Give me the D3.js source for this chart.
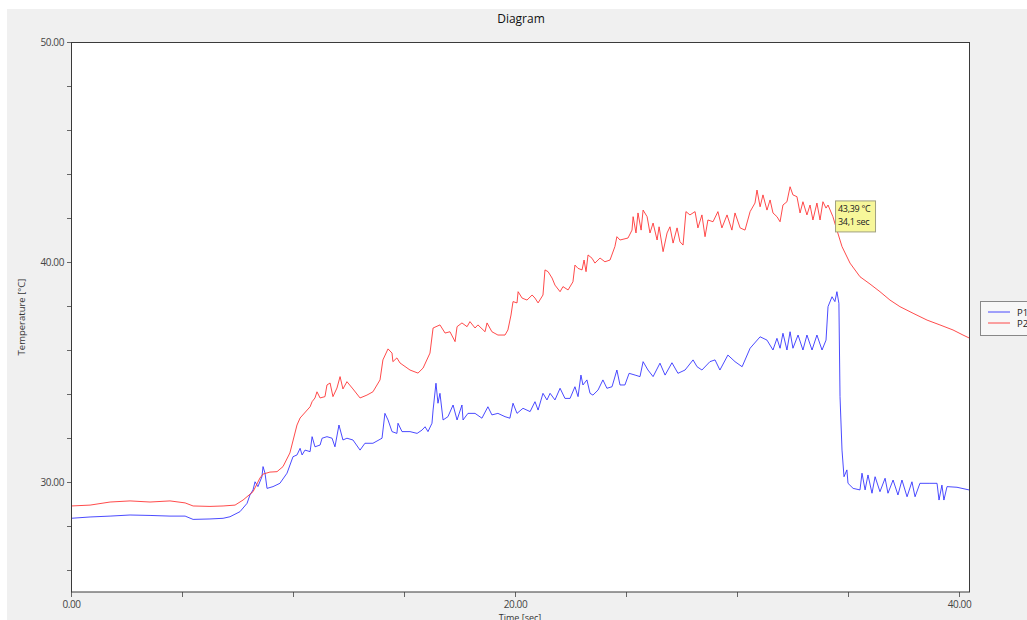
<!DOCTYPE html>
<html><head><meta charset="utf-8">
<script src="https://cdn.jsdelivr.net/npm/d3@7"></script>
<style>
html,body{margin:0;padding:0;background:#fff;}
svg{display:block;}
text{font-family:"Open Sans","DejaVu Sans",sans-serif;fill:#333;}
</style></head>
<body>
<svg id="c" width="1027" height="620"></svg>
<script>
const chartTitle = "Diagram";
const xTitle = "Time [sec]";
const yTitle = "Temperature [°C]";
const seriesNames = ["P1", "P2"];
const seriesColors = ["#2b2bff", "#ff2b2b"];
const xDomain = [0, 40.45];
const yDomain = [25, 50];
const xTicks = [0, 5, 10, 15, 20, 25, 30, 35, 40];
const xLabelTicks = [0, 20, 40];
const yTicks = [26, 28, 30, 32, 34, 36, 38, 40, 42, 44, 46, 48, 50];
const yLabelTicks = [30, 40, 50];
const tipTime = 34.1;
const tipTemp = 43.39;
const tipLines = ["43,39 °C", "34,1 sec"];

const p1Time = [0,0.86,1.76,2.66,3.56,4.46,5.14,5.50,6.26,6.85,7.16,7.61,7.93,8.06,8.20,8.29,8.42,8.60,8.65,8.74,8.83,9.10,9.41,9.73,10.00,10.18,10.32,10.41,10.54,10.77,10.86,10.99,11.22,11.31,11.53,11.76,11.89,12.07,12.25,12.43,12.70,13.02,13.24,13.60,14.01,14.14,14.28,14.46,14.68,14.73,14.91,15.27,15.59,15.81,15.95,16.08,16.26,16.31,16.44,16.53,16.62,16.76,16.98,17.21,17.39,17.61,17.66,17.88,18.20,18.51,18.78,18.96,19.23,19.55,19.77,19.91,20.09,20.36,20.68,20.90,21.04,21.26,21.44,21.58,21.80,22.03,22.25,22.48,22.70,22.84,22.97,23.06,23.24,23.38,23.51,23.74,23.96,24.14,24.37,24.59,24.73,24.95,25.14,25.41,25.63,25.77,25.99,26.22,26.53,26.76,27.07,27.34,27.66,28.02,28.20,28.42,28.78,29.01,29.23,29.59,29.91,30.23,30.59,31.04,31.35,31.62,31.80,31.94,32.07,32.25,32.39,32.52,32.75,32.97,33.15,33.38,33.60,33.83,34.01,34.10,34.28,34.41,34.50,34.59,34.64,34.73,34.82,34.95,35.00,35.23,35.54,35.63,35.77,35.90,36.08,36.22,36.44,36.67,36.80,37.03,37.25,37.43,37.66,37.88,38.02,38.24,38.69,39.01,39.10,39.23,39.32,39.46,39.91,40.45];
const p1Temp = [28.35,28.41,28.45,28.50,28.48,28.45,28.45,28.30,28.32,28.35,28.42,28.65,29.03,29.41,29.64,30.01,29.79,30.24,30.70,30.40,29.71,29.79,29.94,30.40,31.15,31.23,31.53,31.23,31.45,31.38,32.06,31.60,31.68,31.99,32.06,31.99,31.60,32.59,31.91,31.99,31.91,31.45,31.76,31.76,31.99,33.12,32.82,32.29,32.21,32.67,32.29,32.29,32.21,32.36,32.51,32.29,32.67,33.27,34.49,33.58,34.03,32.82,32.97,33.50,32.82,33.50,32.82,33.12,33.12,32.90,33.42,33.05,33.12,32.97,32.90,33.58,33.12,33.35,33.20,33.65,33.27,34.03,33.73,34.03,33.73,34.26,33.80,33.80,34.33,33.88,34.86,34.41,34.64,34.03,33.95,34.18,34.64,34.26,34.33,35.09,34.41,34.41,34.94,34.86,34.79,35.47,35.09,34.79,35.40,34.86,35.42,34.94,35.09,35.55,35.24,35.09,35.47,35.55,35.09,35.77,35.47,35.24,36.08,36.60,36.45,36.00,36.53,36.08,36.76,36.00,36.83,36.08,36.68,36.00,36.68,36.00,36.68,36.00,36.45,37.97,38.42,38.20,38.65,38.12,33.88,31.45,30.24,30.55,29.94,29.71,29.64,30.40,29.64,30.32,29.49,30.24,29.56,30.17,29.49,30.09,29.41,30.09,29.33,30.01,29.33,29.94,29.94,29.94,29.18,29.86,29.18,29.79,29.76,29.64];

const p2Time = [0,0.86,1.76,2.66,3.56,4.46,5.14,5.50,6.26,6.85,7.39,7.75,8.20,8.51,8.65,8.96,9.28,9.55,9.86,10.18,10.32,10.77,10.86,10.99,11.08,11.22,11.44,11.53,11.67,11.80,11.98,12.12,12.25,12.43,12.70,13.02,13.33,13.60,13.92,14.05,14.28,14.46,14.50,14.68,14.82,15.27,15.63,15.86,16.17,16.31,16.62,16.85,17.07,17.30,17.39,17.61,17.84,17.97,18.20,18.33,18.65,18.74,18.96,19.23,19.55,19.68,19.82,19.91,20.09,20.14,20.32,20.54,20.77,20.90,21.04,21.26,21.35,21.49,21.67,21.80,22.03,22.16,22.39,22.61,22.70,22.84,23.02,23.11,23.20,23.29,23.47,23.60,23.83,24.05,24.28,24.50,24.59,24.73,25.09,25.27,25.32,25.45,25.54,25.68,25.77,25.95,26.08,26.22,26.40,26.49,26.67,26.85,26.98,27.12,27.30,27.43,27.57,27.70,27.88,28.11,28.24,28.42,28.56,28.69,28.92,29.14,29.32,29.55,29.77,29.91,30.14,30.36,30.59,30.81,30.90,31.04,31.17,31.35,31.49,31.62,31.80,31.94,32.07,32.25,32.39,32.52,32.70,32.84,32.97,33.15,33.29,33.42,33.60,33.74,33.87,34.01,34.10,34.32,34.50,34.73,35.09,35.54,35.99,36.44,36.89,37.34,37.93,38.56,39.14,39.73,40.18,40.45];
const p2Temp = [28.91,28.95,29.09,29.14,29.09,29.14,29.05,28.91,28.89,28.91,28.95,29.18,29.56,30.18,30.36,30.45,30.47,30.70,31.32,32.59,32.91,33.42,33.65,33.82,34.10,33.82,33.88,34.41,34.50,33.88,34.27,34.79,34.23,34.56,34.23,33.82,33.95,34.10,34.64,35.55,36.05,35.86,35.47,35.64,35.41,35.09,34.95,35.18,35.86,37.00,37.14,36.77,36.83,36.38,37.06,37.23,37.06,37.29,37.00,37.14,36.83,37.23,36.83,36.68,36.68,36.91,37.59,38.20,38.14,38.65,38.36,38.27,38.50,38.36,38.14,38.50,39.64,39.56,39.27,38.95,38.65,38.88,38.73,39.10,39.86,39.71,39.64,40.09,39.56,40.32,40.17,39.95,40.18,40.01,40.09,40.70,41.15,41.00,41.09,41.45,42.06,41.32,42.23,41.45,42.36,42.06,41.32,41.77,41.00,41.60,40.47,41.32,41.60,40.86,41.55,40.92,40.77,42.29,42.14,42.29,41.55,42.14,41.15,41.91,41.83,42.29,41.55,42.14,41.45,42.23,41.55,41.45,42.29,42.68,43.27,42.51,43.05,42.36,42.82,42.23,42.06,41.83,42.59,42.74,43.42,43.05,42.97,42.23,42.74,42.14,42.59,41.91,42.68,41.91,42.74,42.45,42.59,42.06,41.45,40.70,39.95,39.33,39.00,38.65,38.27,37.97,37.67,37.36,37.14,36.91,36.68,36.55];

const svg = d3.select("#c");
const W = 1027, H = 620;
const M = {left: 71, right: 969, top: 42, bottom: 592};

// backgrounds
svg.append("rect").attr("x",0).attr("y",0).attr("width",W).attr("height",H).attr("fill","#ffffff");
svg.append("rect").attr("x",7).attr("y",9).attr("width",W-7).attr("height",H-9).attr("fill","#f0f0f0");
svg.append("rect").attr("x",M.left).attr("y",M.top).attr("width",M.right-M.left).attr("height",M.bottom-M.top).attr("fill","#ffffff");

const x = d3.scaleLinear().domain(xDomain).range([M.left, M.right]);
const y = d3.scaleLinear().domain(yDomain).range([M.bottom, M.top]);

// title
svg.append("text").attr("x",(M.left+M.right)/2+1).attr("y",23).attr("text-anchor","middle")
  .style("font-size","12px").style("fill","#111").text(chartTitle);

// axes
const xAxis = d3.axisBottom(x).tickValues(xTicks).tickSize(5).tickPadding(4)
  .tickFormat(d => xLabelTicks.includes(d) ? d.toFixed(2) : "");
const gx = svg.append("g").attr("transform",`translate(0,${M.bottom})`).call(xAxis);
const yAxis = d3.axisLeft(y).tickValues(yTicks).tickSize(4).tickPadding(3)
  .tickFormat(d => yLabelTicks.includes(d) ? d.toFixed(2) : "");
const gy = svg.append("g").attr("transform",`translate(${M.left},0)`).call(yAxis);
[gx, gy].forEach(g => {
  g.select(".domain").remove();
  g.selectAll(".tick line").attr("stroke","#666");
  g.selectAll(".tick text").style("font-size","10px").style("fill","#444")
   .style("font-family","'Open Sans','DejaVu Sans',sans-serif").style("letter-spacing","-0.4px");
});

// clip
svg.append("clipPath").attr("id","clip").append("rect")
  .attr("x",M.left).attr("y",M.top).attr("width",M.right-M.left).attr("height",M.bottom-M.top);

const line = d3.line().x(d => x(d[0])).y(d => y(d[1]));
const s1 = p1Time.map((t,i) => [t, p1Temp[i]]);
const s2 = p2Time.map((t,i) => [t, p2Temp[i]]);
const lg = svg.append("g").attr("clip-path","url(#clip)");
lg.append("path").datum(s1).attr("d",line).attr("fill","none").attr("stroke",seriesColors[0]).attr("stroke-width",1).attr("stroke-opacity",0.85);
lg.append("path").datum(s2).attr("d",line).attr("fill","none").attr("stroke",seriesColors[1]).attr("stroke-width",1).attr("stroke-opacity",0.85);

// plot border
svg.append("rect").attr("x",M.left+0.5).attr("y",M.top+0.5).attr("width",M.right-M.left).attr("height",M.bottom-M.top-0.5)
  .attr("fill","none").attr("stroke","#3a3a3a").attr("stroke-width",1);

// axis titles
svg.append("text").attr("x",(M.left+M.right)/2).attr("y",621).attr("text-anchor","middle")
  .style("font-size","9px").style("fill","#333").text(xTitle);
svg.append("text").attr("transform",`translate(25,${(M.top+M.bottom)/2}) rotate(-90)`).attr("text-anchor","middle")
  .style("font-size","9.5px").style("fill","#333").text(yTitle);

// tooltip
const tx = x(tipTime) + 7, ty = y(tipTemp) + 13;
svg.append("rect").attr("x",tx+0.5).attr("y",ty+0.5).attr("width",40).attr("height",31)
  .attr("fill","#f7f79a").attr("stroke","#a0a080");
tipLines.forEach((s,i) => {
  svg.append("text").attr("x",tx+3).attr("y",ty+12+i*13).style("font-size","9px")
    .style("letter-spacing","-0.3px").style("fill","#222").text(s);
});

// legend
const lgX = 980, lgY = 301;
svg.append("rect").attr("x",lgX+0.5).attr("y",lgY+0.5).attr("width",60).attr("height",34)
  .attr("fill","#f7f7f7").attr("stroke","#888");
seriesNames.forEach((n,i) => {
  const yy = lgY + 11 + i*11;
  svg.append("line").attr("x1",lgX+8).attr("x2",lgX+30).attr("y1",yy).attr("y2",yy)
    .attr("stroke",seriesColors[i]).attr("stroke-width",1).attr("stroke-opacity",0.85);
  svg.append("text").attr("x",lgX+37).attr("y",yy+3.5).style("font-size","9.5px").style("fill","#222").text(n);
});
</script>
</body></html>
